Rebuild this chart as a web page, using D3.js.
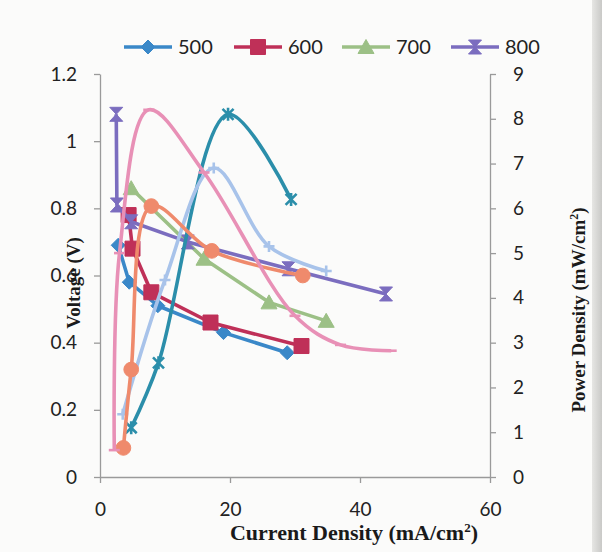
<!DOCTYPE html>
<html>
<head>
<meta charset="utf-8">
<script src="https://cdn.jsdelivr.net/npm/d3@7"></script>
<style>
  html, body { margin: 0; padding: 0; background: #fbfbfa; }
  svg { display: block; }
</style>
</head>
<body>
<div id="chart"></div>
<script>
// Voltage (left axis) – current density (mA/cm2) / voltage (V)
const seriesNames = ["500", "600", "700", "800"];
const i500 = [2.8, 4.5, 8.9, 19, 28.8];
const v500 = [0.69, 0.58, 0.51, 0.43, 0.37];
const i600 = [4.4, 5.0, 7.9, 17, 31];
const v600 = [0.78, 0.68, 0.55, 0.46, 0.39];
const i700 = [4.8, 16, 26, 34.8];
const v700 = [0.86, 0.65, 0.52, 0.465];
const i800 = [2.5, 2.6, 4.8, 13.5, 29, 44];
const v800 = [1.08, 0.81, 0.76, 0.70, 0.62, 0.545];

// Power density (right axis) – mW/cm2
const pi500 = [4.8, 9, 19.7, 29.4];
const p500  = [1.1, 2.55, 8.1, 6.2];
const pi600 = [3.6, 4.8, 7.9, 17.2, 31.2];
const p600  = [0.65, 2.4, 6.05, 5.05, 4.5];
const pi700 = [3.5, 10, 17.5, 26, 34.8];
const p700  = [1.4, 4.4, 6.9, 5.15, 4.6];
const pi800 = [2.2, 3.0, 7.5, 16, 30, 37, 44.8];
const p800  = [0.6, 5.0, 8.2, 6.8, 3.6, 2.95, 2.82];

// tick labels
const xTicks = [0, 20, 40, 60];
const yLeftTicks = [0, 0.2, 0.4, 0.6, 0.8, 1, 1.2];
const yLeftLabels = ["0", "0.2", "0.4", "0.6", "0.8", "1", "1.2"];
const yRightTicks = [0, 1, 2, 3, 4, 5, 6, 7, 8, 9];

const W = 602, H = 552;
const zip = (xs, ys) => xs.map((x, i) => ({ x, y: ys[i] }));

const x  = d3.scaleLinear().domain([0, 60]).range([100, 490]);
const yL = d3.scaleLinear().domain([0, 1.2]).range([477, 74]);
const yR = d3.scaleLinear().domain([0, 9]).range([477, 74]);

// marker shapes
const mk = {
  diamond: "M0,-7L7,0L0,7L-7,0Z",
  square: "M-7.5,-7.5H7.5V7.5H-7.5Z",
  triangle: "M0,-7.5L8,6.5L-8,6.5Z",
  hourglass: "M-6.5,-7H6.5L-6.5,7H6.5Z",
  cross: "M-5.5,-5.5L5.5,5.5M-5.5,5.5L5.5,-5.5M0,-6.5V6.5",
  plus: "M-5.5,0H5.5M0,-5.5V5.5",
  dash: "M-5.5,0H5.5",
  circle: d3.symbol(d3.symbolCircle, 170)()
};

const volt = [
  { name: "500", data: zip(i500, v500), color: "#3a88c8", marker: "diamond", filled: true },
  { name: "600", data: zip(i600, v600), color: "#bf3058", marker: "square", filled: true },
  { name: "700", data: zip(i700, v700), color: "#9cc086", marker: "triangle", filled: true },
  { name: "800", data: zip(i800, v800), color: "#7b6dbf", marker: "hourglass", filled: true }
];
const power = [
  { data: zip(pi500, p500), color: "#2b8eaa", marker: "cross", filled: false },
  { data: zip(pi700, p700), color: "#a8c3ea", marker: "plus", filled: false },
  { data: zip(pi600, p600), color: "#ef8a6c", marker: "circle", filled: true },
  { data: zip(pi800, p800), color: "#e890b6", marker: "dash", filled: false }
];

const svg = d3.select("#chart").append("svg")
  .attr("width", W).attr("height", H)
  .style("font-family", "Lato, 'Open Sans', sans-serif");

// page edge of the photo
const grad = svg.append("defs").append("linearGradient").attr("id", "edge");
grad.append("stop").attr("offset", "0%").attr("stop-color", "#e6e6e4");
grad.append("stop").attr("offset", "100%").attr("stop-color", "#c9c9c7");
svg.append("rect").attr("x", 592).attr("y", 0).attr("width", 10).attr("height", H).attr("fill", "url(#edge)");

// axes
const axisColor = "#9a9a9a";
const styleAxis = g => {
  g.select(".domain").attr("stroke", axisColor).attr("stroke-width", 1.3);
  g.selectAll(".tick line").attr("stroke", axisColor).attr("stroke-width", 1.3);
  g.selectAll(".tick text").attr("fill", "#222").attr("font-size", 19).attr("font-family", "Lato, sans-serif");
};

svg.append("g")
  .attr("transform", "translate(0,477)")
  .call(d3.axisBottom(x).tickValues(xTicks).tickSize(6).tickSizeOuter(0).tickPadding(20))
  .call(styleAxis);

svg.append("g")
  .attr("transform", "translate(100,0)")
  .call(d3.axisLeft(yL).tickValues(yLeftTicks).tickSize(6).tickSizeOuter(0).tickPadding(17)
    .tickFormat((d, i) => yLeftLabels[i]))
  .call(styleAxis);

svg.append("g")
  .attr("transform", "translate(490,0)")
  .call(d3.axisRight(yR).tickValues(yRightTicks).tickSize(6).tickSizeOuter(0).tickPadding(17))
  .call(styleAxis);

// draw a series
function drawSeries(s, y, curve) {
  const line = d3.line().x(d => x(d.x)).y(d => y(d.y)).curve(curve);
  svg.append("path").datum(s.data)
    .attr("d", line)
    .attr("fill", "none")
    .attr("stroke", s.color)
    .attr("stroke-width", 3.6)
    .attr("stroke-linejoin", "round");
  svg.append("g").selectAll("path")
    .data(s.data).join("path")
    .attr("transform", d => `translate(${x(d.x)},${y(d.y)})`)
    .attr("d", mk[s.marker])
    .attr("fill", s.filled ? s.color : "none")
    .attr("stroke", s.color)
    .attr("stroke-width", s.filled ? 1 : 2.6);
}

volt.forEach(s => drawSeries(s, yL, d3.curveLinear));
power.forEach(s => drawSeries(s, yR, d3.curveCatmullRom.alpha(0.5)));

// legend
const legendX = [124, 234, 342, 451];
const legend = svg.append("g");
volt.forEach((s, i) => {
  const g = legend.append("g").attr("transform", `translate(${legendX[i]},47)`);
  g.append("line").attr("x1", 0).attr("x2", 48).attr("y1", 0).attr("y2", 0)
    .attr("stroke", s.color).attr("stroke-width", 3.6);
  g.append("path").attr("transform", "translate(24,0)").attr("d", mk[s.marker])
    .attr("fill", s.color).attr("stroke", s.color);
  g.append("text").attr("x", 54).attr("y", 7).attr("font-size", 20).attr("fill", "#222")
    .text(s.name);
});

// axis titles
const serif = "'Liberation Serif', 'DejaVu Serif', serif";
const xt = svg.append("text").attr("x", 354).attr("y", 540).attr("text-anchor", "middle")
  .attr("font-family", serif).attr("font-weight", "bold").attr("font-size", 22).attr("fill", "#1a1a1a");
xt.append("tspan").text("Current Density (mA/cm");
xt.append("tspan").attr("font-size", 13).attr("dy", -8).text("2");
xt.append("tspan").attr("dy", 8).text(")");

svg.append("text").attr("transform", "translate(80,283) rotate(-90)").attr("text-anchor", "middle")
  .attr("font-family", serif).attr("font-weight", "bold").attr("font-size", 19).attr("fill", "#1a1a1a")
  .text("Voltage (V)");

const yt = svg.append("text").attr("transform", "translate(585,310) rotate(-90)").attr("text-anchor", "middle")
  .attr("font-family", serif).attr("font-weight", "bold").attr("font-size", 19).attr("fill", "#1a1a1a");
yt.append("tspan").text("Power Density  (mW/cm");
yt.append("tspan").attr("font-size", 12).attr("dy", -7).text("2");
yt.append("tspan").attr("dy", 7).text(")");
</script>
</body>
</html>
